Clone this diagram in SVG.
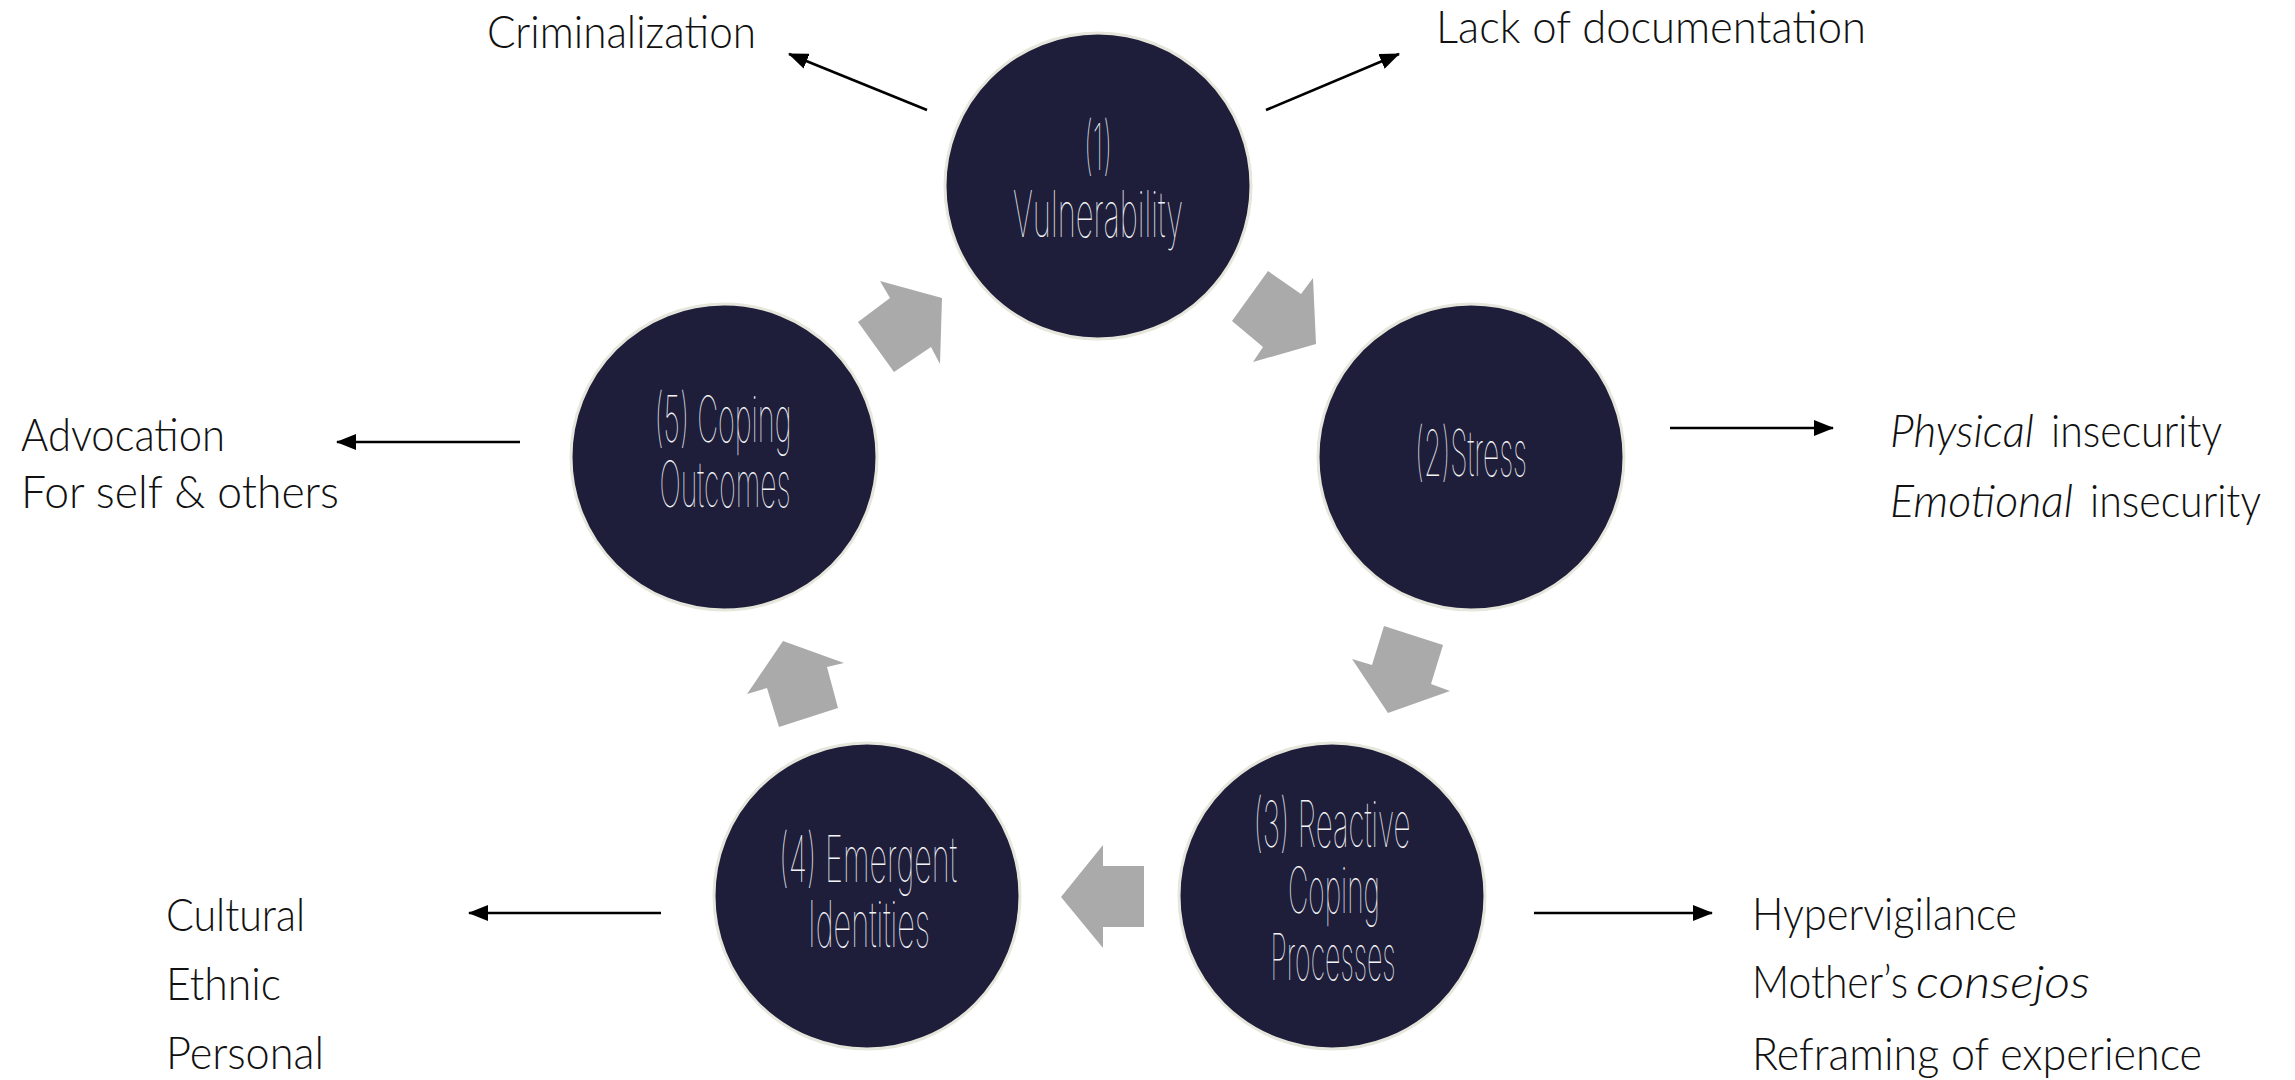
<svg xmlns="http://www.w3.org/2000/svg" width="2295" height="1080" viewBox="0 0 2295 1080">
<style>
.node{fill:#1e1e3b;stroke:#e6e6dc;stroke-width:3}
.nt{font-family:Inter,"DejaVu Sans",sans-serif;font-weight:100;font-size:64px;fill:#f4f4f6;text-anchor:middle}
.lbl{font-family:Lato,"Noto Sans",sans-serif;font-weight:300;font-size:45px;fill:#111}
.it{font-style:italic}
.blk{fill:#aaaaab}
.ln{stroke:#000;stroke-width:2.6;fill:none;marker-end:url(#ah)}
</style>
<defs>
<marker id="ah" markerUnits="userSpaceOnUse" markerWidth="20" markerHeight="16" refX="19" refY="8" orient="auto">
<path d="M0,0 L20,8 L0,16 Z" fill="#000"/>
</marker>
</defs>
<rect width="2295" height="1080" fill="#fff"/>
<g id="connectors">
<polygon class="blk" points="1268,271 1301,294 1313,278 1316,344 1253,362 1263,347 1232,321"/>
<polygon class="blk" points="1384,626 1443,645 1431,684 1450,691 1388,713 1352,659 1372,665"/>
<polygon class="blk" points="1144,866 1103,866 1103,845 1061,897 1103,948 1103,927 1144,927"/>
<polygon class="blk" points="783,641 844,663 827,667 838,708 779,727 767,688 747,694"/>
<polygon class="blk" points="942,298 880,281 890,298 858,322 894,372 931,347 940,364"/>
<line class="ln" x1="927" y1="110" x2="789" y2="54"/>
<line class="ln" x1="1266" y1="110" x2="1399" y2="54"/>
<line class="ln" x1="1670" y1="428" x2="1833" y2="428"/>
<line class="ln" x1="520" y1="442" x2="337" y2="442"/>
<line class="ln" x1="661" y1="913" x2="469" y2="913"/>
<line class="ln" x1="1534" y1="913" x2="1712" y2="913"/>
</g>
<g id="n1">
<circle class="node" cx="1098" cy="186" r="153"/>
<text class="nt" x="1098" y="170" textLength="28" lengthAdjust="spacingAndGlyphs">(1)</text>
<text class="nt" x="1098" y="237" textLength="170" lengthAdjust="spacingAndGlyphs">Vulnerability</text>
</g>
<g id="n2">
<circle class="node" cx="1471" cy="457" r="153"/>
<text class="nt" x="1471" y="476" textLength="112" lengthAdjust="spacingAndGlyphs">(2)Stress</text>
</g>
<g id="n3">
<circle class="node" cx="1332" cy="896" r="153"/>
<text class="nt" x="1332" y="847" textLength="157" lengthAdjust="spacingAndGlyphs">(3) Reactive</text>
<text class="nt" x="1334" y="913" textLength="92" lengthAdjust="spacingAndGlyphs">Coping</text>
<text class="nt" x="1333" y="980" textLength="125" lengthAdjust="spacingAndGlyphs">Processes</text>
</g>
<g id="n4">
<circle class="node" cx="867" cy="896" r="153"/>
<text class="nt" x="868" y="882" textLength="178" lengthAdjust="spacingAndGlyphs">(4) Emergent</text>
<text class="nt" x="869" y="947" textLength="122" lengthAdjust="spacingAndGlyphs">Identities</text>
</g>
<g id="n5">
<circle class="node" cx="724" cy="457" r="153"/>
<text class="nt" x="723" y="442" textLength="137" lengthAdjust="spacingAndGlyphs">(5) Coping</text>
<text class="nt" x="725" y="507" textLength="131" lengthAdjust="spacingAndGlyphs">Outcomes</text>
</g>
<g id="lbl-criminalization">
<text class="lbl" x="487" y="48" textLength="269" lengthAdjust="spacingAndGlyphs">Criminalization</text>
</g>
<g id="lbl-documentation">
<text class="lbl" x="1436" y="43" textLength="430" lengthAdjust="spacingAndGlyphs">Lack of documentation</text>
</g>
<g id="lbl-insecurity">
<text class="lbl it" x="1890" y="447" textLength="144" lengthAdjust="spacingAndGlyphs">Physical</text>
<text class="lbl" x="2051" y="447" textLength="171" lengthAdjust="spacingAndGlyphs">insecurity</text>
<text class="lbl it" x="1890" y="517" textLength="183" lengthAdjust="spacingAndGlyphs">Emotional</text>
<text class="lbl" x="2090" y="517" textLength="171" lengthAdjust="spacingAndGlyphs">insecurity</text>
</g>
<g id="lbl-coping">
<text class="lbl" x="1752" y="930" textLength="265" lengthAdjust="spacingAndGlyphs">Hypervigilance</text>
<text class="lbl" x="1752" y="998" textLength="156" lengthAdjust="spacingAndGlyphs">Mother’s</text>
<text class="lbl it" x="1916" y="998" textLength="174" lengthAdjust="spacingAndGlyphs">consejos</text>
<text class="lbl" x="1752" y="1070" textLength="450" lengthAdjust="spacingAndGlyphs">Reframing of experience</text>
</g>
<g id="lbl-identities">
<text class="lbl" x="166" y="931" textLength="139" lengthAdjust="spacingAndGlyphs">Cultural</text>
<text class="lbl" x="166" y="1000" textLength="115" lengthAdjust="spacingAndGlyphs">Ethnic</text>
<text class="lbl" x="166" y="1069" textLength="158" lengthAdjust="spacingAndGlyphs">Personal</text>
</g>
<g id="lbl-advocation">
<text class="lbl" x="21" y="451" textLength="204" lengthAdjust="spacingAndGlyphs">Advocation</text>
<text class="lbl" x="21" y="508" textLength="318" lengthAdjust="spacingAndGlyphs">For self &amp; others</text>
</g>
</svg>
